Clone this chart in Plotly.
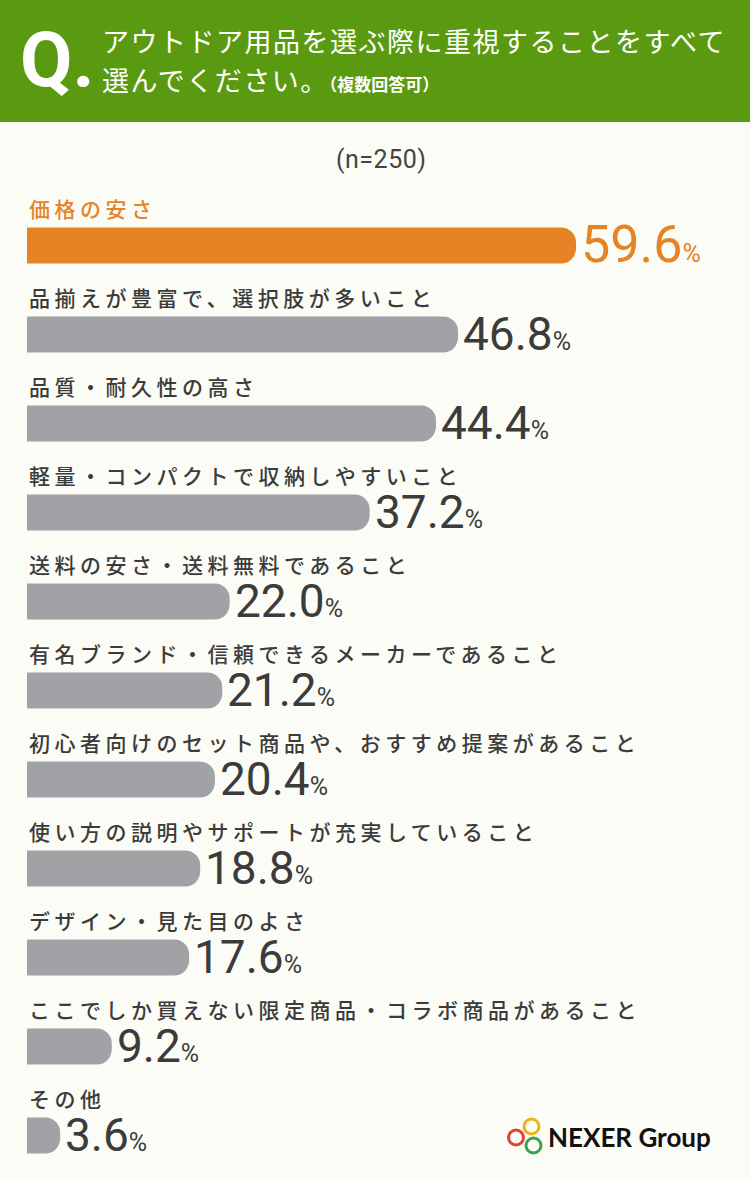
import plotly.graph_objects as go

W, H = 750, 1180

categories = [
    '価格の安さ',
    '品揃えが豊富で、選択肢が多いこと',
    '品質・耐久性の高さ',
    '軽量・コンパクトで収納しやすいこと',
    '送料の安さ・送料無料であること',
    '有名ブランド・信頼できるメーカーであること',
    '初心者向けのセット商品や、おすすめ提案があること',
    '使い方の説明やサポートが充実していること',
    'デザイン・見た目のよさ',
    'ここでしか買えない限定商品・コラボ商品があること',
    'その他',
]
values = [59.6, 46.8, 44.4, 37.2, 22.0, 21.2, 20.4, 18.8, 17.6, 9.2, 3.6]

ORANGE = '#e58325'
GRAY = '#a1a2a6'
TEXT = '#3b3b3b'
GREEN = '#5a9a10'
BG = '#fbfcf6'
JP = 'Noto Sans CJK JP'
NUM = 'Roboto, sans-serif'


def px(x):
    return x / W


def py(y):
    return 1 - y / H


def spaced(s, ls):
    return f'<span style="letter-spacing:{ls}px">{s}</span>'


bar_colors = [ORANGE] + [GRAY] * (len(values) - 1)

fig = go.Figure(go.Bar(
    x=values, y=categories, orientation='h',
    marker=dict(color=bar_colors, line_width=0),
    width=0.405, hoverinfo='skip',
))

annotations = []
for i, (cat, val) in enumerate(zip(categories, values)):
    col = ORANGE if i == 0 else TEXT
    big = 52 if i == 0 else 46
    # category label above the bar
    annotations.append(dict(
        x=0, y=cat, xref='x', yref='y', xanchor='left', yanchor='middle',
        yshift=38, showarrow=False, text=spaced(cat, 4.5),
        font=dict(family=JP, size=21, color=col, weight=500),
    ))
    # value label at the bar end
    annotations.append(dict(
        x=val, y=cat, xref='x', yref='y', xanchor='left', yanchor='middle',
        xshift=3, yshift=1, showarrow=False,
        text=f'{val:.1f}' + '<span style="font-size:25px">%</span>',
        font=dict(family=NUM, size=big, color=col, weight=400),
    ))

# header
annotations += [
    dict(x=px(18), y=py(60), xref='paper', yref='paper', xanchor='left', yanchor='middle',
         showarrow=False, text='<b>Q.</b>',
         font=dict(family=NUM, size=76, color='white')),
    dict(x=px(100), y=py(41), xref='paper', yref='paper', xanchor='left', yanchor='middle',
         showarrow=False, text=spaced('アウトドア用品を選ぶ際に重視することをすべて', 1.5),
         font=dict(family=JP, size=27, color='white')),
    dict(x=px(100), y=py(79), xref='paper', yref='paper', xanchor='left', yanchor='middle',
         showarrow=False,
         text=spaced('選んでください。', 1.5) + '<b><span style="font-size:17px">（複数回答可）</span></b>',
         font=dict(family=JP, size=27, color='white')),
    dict(x=px(381), y=py(160), xref='paper', yref='paper', xanchor='center', yanchor='middle',
         showarrow=False, text=spaced('(n=250)', 0.5),
         font=dict(family=NUM, size=25, color='#444444')),
    dict(x=px(546), y=py(1137), xref='paper', yref='paper', xanchor='left', yanchor='middle',
         showarrow=False, text='<b>NEXER Group</b>',
         font=dict(family='Lato, sans-serif', size=26, color='#111111')),
]

shapes = [
    dict(type='rect', xref='paper', yref='paper', x0=0, x1=1, y0=py(122), y1=1,
         fillcolor=GREEN, line_width=0, layer='below'),
]
for cx, cy, c in [(531.5, 1126.5, '#f0b21a'), (516, 1137.5, '#e0402e'), (533.5, 1145.5, '#3aa346')]:
    r = 7.5
    shapes.append(dict(type='circle', xref='paper', yref='paper',
                       x0=px(cx - r), x1=px(cx + r), y0=py(cy + r), y1=py(cy - r),
                       line=dict(color=c, width=3), fillcolor='rgba(0,0,0,0)'))

x_max = 59.6 * (W - 27) / (576 - 27)

fig.update_layout(
    width=W, height=H,
    margin=dict(l=0, r=0, t=0, b=0),
    paper_bgcolor=BG, plot_bgcolor=BG,
    barcornerradius=15,
    showlegend=False,
    xaxis=dict(domain=[px(27), 1], range=[0, x_max], visible=False, fixedrange=True),
    yaxis=dict(domain=[0, py(201)], range=[10.5, -0.5], visible=False, fixedrange=True,
               type='category'),
    annotations=annotations,
    shapes=shapes,
)

fig.write_html('out.html', config={'displayModeBar': False},
               post_script="document.body.style.margin='0';")
